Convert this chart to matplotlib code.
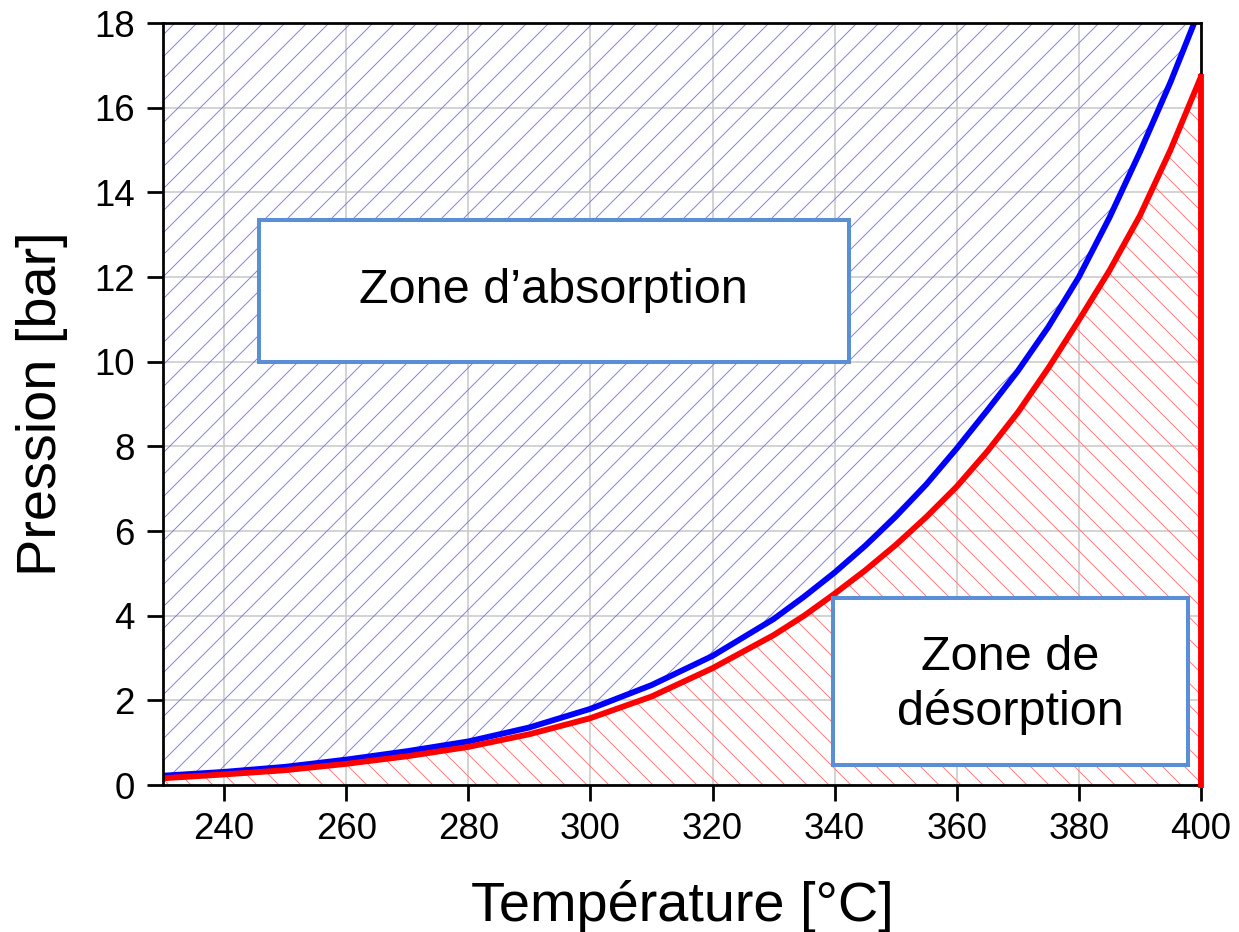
import numpy as np
import matplotlib.pyplot as plt
from matplotlib.patches import Rectangle

plt.rcParams['font.family'] = ['Liberation Sans', 'DejaVu Sans']
plt.rcParams['hatch.linewidth'] = 0.5

# Temperature [°C] and equilibrium pressures [bar]
temp = [230, 240, 250, 260, 270, 280, 290, 300, 310, 320, 330, 335, 340, 345,
        350, 355, 360, 365, 370, 375, 380, 385, 390, 395, 400]
p_absorption = [0.22, 0.31, 0.43, 0.60, 0.80, 1.03, 1.36, 1.80, 2.36, 3.05, 3.92, 4.45,
                5.02, 5.65, 6.34, 7.10, 7.95, 8.85, 9.78, 10.82, 12.00, 13.40, 14.95,
                16.60, 18.40]
p_desorption = [0.16, 0.25, 0.35, 0.50, 0.68, 0.90, 1.20, 1.58, 2.09, 2.76, 3.54, 4.00,
                4.52, 5.07, 5.67, 6.33, 7.05, 7.88, 8.80, 9.85, 10.98, 12.15, 13.45,
                15.00, 16.73]

x_ticks = np.arange(240, 401, 20)
y_ticks = np.arange(0, 19, 2)

dpi = 132
fig = plt.figure(figsize=(1239 / dpi, 932 / dpi), dpi=dpi)
ax = fig.add_axes([0.1316, 0.1577, 0.8377, 0.8176])

# hatched zones
ax.fill_between(temp, p_absorption, 18, facecolor='none', edgecolor='#7676ff',
                hatch='//', linewidth=0, zorder=1)
ax.fill_between(temp, 0, p_desorption, facecolor='none', edgecolor='#ff7676',
                hatch='\\\\', linewidth=0, zorder=1)

# curves
ax.plot(temp, p_absorption, color='blue', lw=3.2, zorder=3, solid_joinstyle='round')
ax.plot(temp, p_desorption, color='red', lw=3.2, zorder=3, solid_joinstyle='round')
ax.plot([temp[-1], temp[-1]], [p_desorption[-1], 0], color='red', lw=3.2, zorder=7,
        clip_on=False)

# text boxes
box_col = '#5b8fd5'
ax.add_patch(Rectangle((245.7, 10.0), 96.6, 3.35, facecolor='white', edgecolor=box_col,
                       lw=2.2, zorder=4))
ax.text(294.0, 11.68, 'Zone d\u2019absorption', ha='center', va='center', fontsize=26.5,
        zorder=5)
ax.add_patch(Rectangle((339.7, 0.47), 58.2, 3.95, facecolor='white', edgecolor=box_col,
                       lw=2.2, zorder=4))
ax.text(368.8, 2.36, 'Zone de\nd\u00e9sorption', ha='center', va='center', fontsize=26.5,
        linespacing=1.25, zorder=5)

ax.set_xlim(230, 400)
ax.set_ylim(0, 18)
ax.set_xticks(x_ticks)
ax.set_yticks(y_ticks)
ax.grid(True, color='#cccccc', lw=0.9, zorder=0)
ax.set_axisbelow(True)

for s in ax.spines.values():
    s.set_linewidth(1.5)
    s.set_zorder(6)
ax.tick_params(direction='out', length=8.5, width=1.5, labelsize=20, pad=6)
ax.tick_params(axis='y', pad=7)

ax.set_xlabel('Temp\u00e9rature [\u00b0C]', fontsize=30.5, labelpad=18)
ax.set_ylabel('Pression [bar]', fontsize=30.5, labelpad=14)

fig.savefig('out.png', dpi=dpi)
